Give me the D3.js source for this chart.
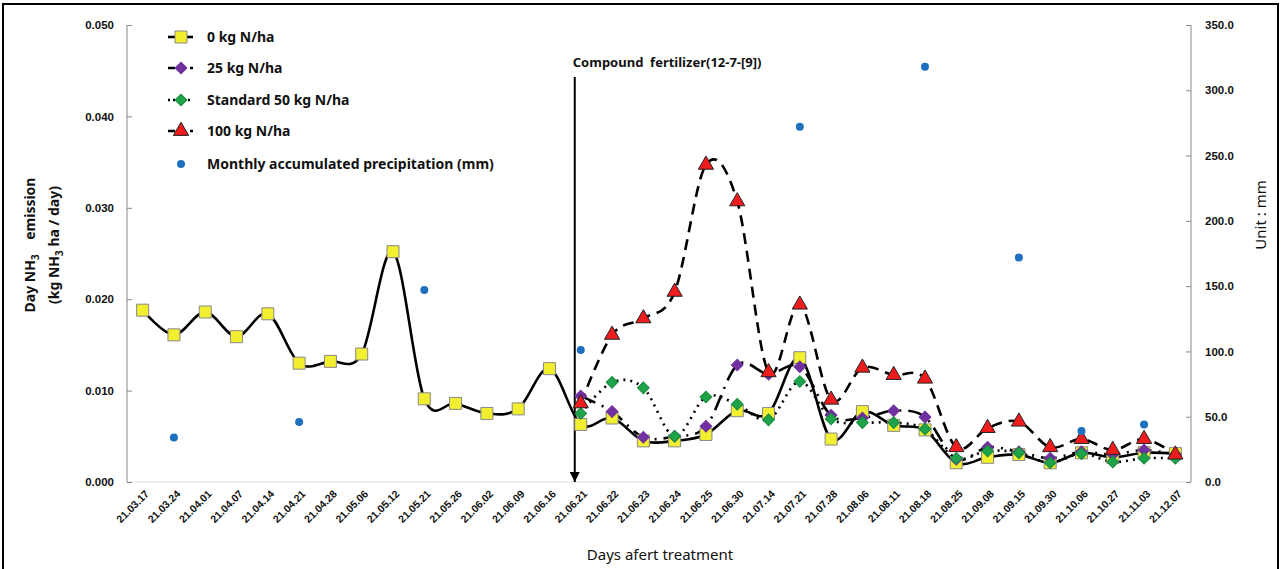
<!DOCTYPE html>
<html>
<head>
<meta charset="utf-8">
<script src="https://cdn.jsdelivr.net/npm/d3@7"></script>
<style>
  body { margin: 0; background: #fff; }
  svg { font-family: "Noto Sans", "Open Sans", sans-serif; }
</style>
</head>
<body>
<div id="chart"></div>
<script>
// sampling dates (category axis)
var dates = ["21.03.17","21.03.24","21.04.01","21.04.07","21.04.14","21.04.21","21.04.28","21.05.06",
  "21.05.12","21.05.21","21.05.26","21.06.02","21.06.09","21.06.16","21.06.21","21.06.22","21.06.23",
  "21.06.24","21.06.25","21.06.30","21.07.14","21.07.21","21.07.28","21.08.06","21.08.11","21.08.18",
  "21.08.25","21.09.08","21.09.15","21.09.30","21.10.06","21.10.27","21.11.03","21.12.07"];

// daily NH3 emission (kg NH3 ha / day)
var kg0 = [0.0188,0.0161,0.0186,0.0159,0.0184,0.0130,0.0132,0.0140,0.0252,0.0091,0.0086,0.0075,0.0080,0.0124,
  0.0063,0.0070,0.0045,0.0045,0.0052,0.0078,0.0075,0.0136,0.0047,0.0077,0.0062,0.0057,
  0.0021,0.0027,0.0030,0.0021,0.0032,0.0027,0.0032,0.0031];
var kg25 = [null,null,null,null,null,null,null,null,null,null,null,null,null,null,
  0.0094,0.0077,0.0049,0.0050,0.0061,0.0128,0.0118,0.0126,0.0073,0.0070,0.0078,0.0071,
  0.0025,0.0038,0.0033,0.0026,0.0033,0.0030,0.0035,0.0030];
var kg50 = [null,null,null,null,null,null,null,null,null,null,null,null,null,null,
  0.0075,0.0109,0.0103,0.0050,0.0093,0.0085,0.0068,0.0110,0.0069,0.0065,0.0065,0.0058,
  0.0026,0.0034,0.0032,0.0021,0.0031,0.0022,0.0026,0.0026];
var kg100 = [null,null,null,null,null,null,null,null,null,null,null,null,null,null,
  0.0086,0.0161,0.0179,0.0208,0.0347,0.0307,0.0120,0.0194,0.0090,0.0125,0.0117,0.0113,
  0.0038,0.0059,0.0066,0.0038,0.0047,0.0035,0.0047,0.0030];

// monthly accumulated precipitation (mm), right axis
var rain = [null,34,null,null,null,46,null,null,null,147,null,null,null,null,
  101,null,null,null,null,null,null,272,null,null,null,318,
  null,null,172,null,39,null,44,null];

var leftTicks = [0, 0.01, 0.02, 0.03, 0.04, 0.05];
var rightTicks = [0, 50, 100, 150, 200, 250, 300, 350];

var W = 1281, H = 569;
var svg = d3.select("#chart").append("svg").attr("width", W).attr("height", H);

// outer frame
svg.append("rect").attr("x", 3).attr("y", 4).attr("width", W - 6).attr("height", H)
  .attr("fill", "none").attr("stroke", "#000").attr("stroke-width", 2);

var pL = 127, pR = 1191, pT = 25, pB = 482;

var x = d3.scalePoint().domain(dates).range([pL, pR]).padding(0.5);
var y = d3.scaleLinear().domain([0, 0.05]).range([pB, pT]);
var y2 = d3.scaleLinear().domain([0, 350]).range([pB, pT]);

// axes
var gx = svg.append("g").attr("transform", "translate(0," + pB + ")")
  .call(d3.axisBottom(x).tickSize(0).tickPadding(0));
gx.select(".domain").attr("stroke", "#ddd").attr("d", "M" + pL + ",0H" + pR);
gx.selectAll("text")
  .attr("transform", "translate(4,10) rotate(-45)")
  .attr("text-anchor", "end").attr("dy", "0.35em").attr("y", 0)
  .style("font-size", "10.5px").style("font-weight", "bold").attr("fill", "#111");

var gy = svg.append("g").attr("transform", "translate(" + pL + ",0)")
  .call(d3.axisRight(y).tickValues(leftTicks).tickSize(5).tickFormat(d3.format(".3f")));
gy.select(".domain").attr("stroke", "#888").attr("d", "M0," + pT + "V" + pB);
gy.selectAll("line").attr("stroke", "#888");
gy.selectAll("text").attr("x", -13).attr("text-anchor", "end")
  .style("font-size", "11.5px").style("font-weight", "bold").attr("fill", "#111");

var gy2 = svg.append("g").attr("transform", "translate(" + pR + ",0)")
  .call(d3.axisLeft(y2).tickValues(rightTicks).tickSize(5).tickFormat(d3.format(".1f")));
gy2.select(".domain").attr("stroke", "#888").attr("d", "M0," + pT + "V" + pB);
gy2.selectAll("line").attr("stroke", "#888");
gy2.selectAll("text").attr("x", 14).attr("text-anchor", "start")
  .style("font-size", "11.5px").style("font-weight", "bold").attr("fill", "#111");

// axis titles
svg.append("text").attr("x", 660).attr("y", 560).attr("text-anchor", "middle")
  .style("font-size", "15px").attr("fill", "#111").text("Days afert treatment");

var yt = svg.append("text").attr("transform", "translate(35,245) rotate(-90)")
  .attr("text-anchor", "middle").style("font-size", "14px").style("font-weight", "bold")
  .style("white-space", "pre").attr("fill", "#111");
yt.append("tspan").attr("x", 0).attr("y", 0).text("Day NH");
yt.append("tspan").attr("dy", 4).style("font-size", "10px").text("3");
yt.append("tspan").attr("dy", -4).text("    emission");
yt.append("tspan").attr("x", 0).attr("y", 24).text("(kg NH");
yt.append("tspan").attr("dy", 4).style("font-size", "10px").text("3");
yt.append("tspan").attr("dy", -4).text(" ha / day)");

svg.append("text").attr("transform", "translate(1266,215) rotate(-90)")
  .attr("text-anchor", "middle").style("font-size", "15px").attr("fill", "#111").text("Unit : mm");

// application arrow
svg.append("defs").append("marker").attr("id", "arrow").attr("viewBox", "0 0 10 10")
  .attr("refX", 10).attr("refY", 5).attr("markerWidth", 5).attr("markerHeight", 5)
  .attr("markerUnits", "strokeWidth").attr("orient", "auto")
  .append("path").attr("d", "M0,0L10,5L0,10z").attr("fill", "#000");
var ax = x("21.06.21") - 6;
svg.append("line").attr("x1", ax).attr("x2", ax).attr("y1", 77).attr("y2", pB)
  .attr("stroke", "#000").attr("stroke-width", 2).attr("marker-end", "url(#arrow)");
svg.append("text").attr("x", ax - 2).attr("y", 67).style("font-size", "13px").style("font-weight", "bold")
  .style("white-space", "pre").attr("fill", "#111").text("Compound  fertilizer(12-7-[9])");

// series (diamonds = squares turned 45 degrees)
var series = [
  { name: "0 kg N/ha", values: kg0, dash: null, sym: d3.symbolSquare, size: 144, rot: 0, fill: "#f2ee30", stroke: "#888" },
  { name: "25 kg N/ha", values: kg25, dash: "16,7,2,7", sym: d3.symbolSquare, size: 68, rot: 45, fill: "#7030a0", stroke: "#7030a0" },
  { name: "Standard 50 kg N/ha", values: kg50, dash: "2,5", sym: d3.symbolSquare, size: 68, rot: 45, fill: "#1fa34a", stroke: "#1a8a3e" },
  { name: "100 kg N/ha", values: kg100, dash: "11,7", sym: d3.symbolTriangle, size: 100, rot: 0, fill: "#ee1c1c", stroke: "#222" }
];

var line = d3.line()
  .defined(function(d){ return d.v !== null; })
  .x(function(d){ return x(d.k); })
  .y(function(d){ return y(d.v); })
  .curve(d3.curveCardinal.tension(0));

series.forEach(function(s){
  var pts = dates.map(function(k, i){ return { k: k, v: s.values[i] }; });
  svg.append("path").datum(pts).attr("d", line).attr("fill", "none")
    .attr("stroke", "#000").attr("stroke-width", 2.6)
    .attr("stroke-dasharray", s.dash);
});

series.forEach(function(s){
  var pts = dates.map(function(k, i){ return { k: k, v: s.values[i] }; })
    .filter(function(d){ return d.v !== null; });
  svg.selectAll(null).data(pts).enter().append("path")
    .attr("d", d3.symbol().type(s.sym).size(s.size))
    .attr("transform", function(d){
      return "translate(" + x(d.k) + "," + y(d.v) + ") rotate(" + s.rot + ")";
    })
    .attr("fill", s.fill).attr("stroke", s.stroke).attr("stroke-width", 1);
});

// precipitation points
var rainPts = dates.map(function(k, i){ return { k: k, v: rain[i] }; })
  .filter(function(d){ return d.v !== null; });
svg.selectAll(null).data(rainPts).enter().append("circle")
  .attr("cx", function(d){ return x(d.k); })
  .attr("cy", function(d){ return y2(d.v); })
  .attr("r", 4).attr("fill", "#1f6fc0");

// legend
var legRows = [37, 68, 100, 131, 164];
series.forEach(function(s, i){
  var g = svg.append("g").attr("transform", "translate(0," + legRows[i] + ")");
  g.append("line").attr("x1", 168).attr("x2", 193).attr("stroke", "#000").attr("stroke-width", 2.6)
    .attr("stroke-dasharray", s.dash === "2,5" ? "2,3" : (s.dash ? "7,4" : null));
  g.append("path").attr("d", d3.symbol().type(s.sym).size(s.size))
    .attr("transform", "translate(181,0) rotate(" + s.rot + ")")
    .attr("fill", s.fill).attr("stroke", s.stroke);
  g.append("text").attr("x", 207).attr("dy", "0.35em").style("font-size", "14px")
    .style("font-weight", "bold").attr("fill", "#111").text(s.name);
});
var lg = svg.append("g").attr("transform", "translate(0," + legRows[4] + ")");
lg.append("circle").attr("cx", 181).attr("r", 4).attr("fill", "#1f6fc0");
lg.append("text").attr("x", 207).attr("dy", "0.35em").style("font-size", "14px")
  .style("font-weight", "bold").attr("fill", "#111").text("Monthly accumulated precipitation (mm)");
</script>
</body>
</html>
